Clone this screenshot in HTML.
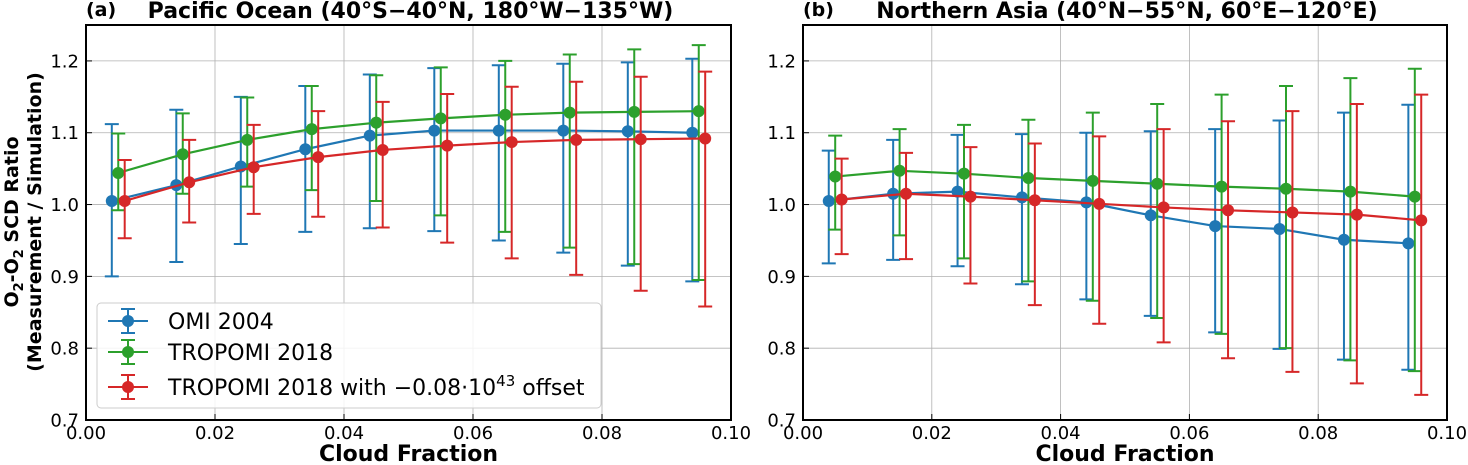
<!DOCTYPE html>
<html><head><meta charset="utf-8"><style>
html,body{margin:0;padding:0;background:#fff;}
svg{display:block;font-family:"DejaVu Sans","Liberation Sans",sans-serif;}
</style></head><body>
<svg id="chart" width="1468" height="465" viewBox="0 0 1468 465" xmlns="http://www.w3.org/2000/svg"></svg>
<script>
const cloudFraction=[0.005,0.015,0.025,0.035,0.045,0.055,0.065,0.075,0.085,0.095];
const xTicks=[0,0.02,0.04,0.06,0.08,0.10];
const xTickLabels=["0.00","0.02","0.04","0.06","0.08","0.10"];
const yTicks=[0.7,0.8,0.9,1.0,1.1,1.2];
const yTickLabels=["0.7","0.8","0.9","1.0","1.1","1.2"];
const seriesNames=["OMI 2004","TROPOMI 2018","TROPOMI 2018 with \u22120.08\u00b710"];
const xOffsets=[-0.001,0,0.001];
// Panel a
const aOmi=[1.005,1.027,1.053,1.077,1.096,1.103,1.103,1.103,1.102,1.100];
const aOmiLow=[0.900,0.920,0.945,0.962,0.967,0.963,0.950,0.933,0.915,0.893];
const aOmiHigh=[1.112,1.132,1.150,1.165,1.181,1.190,1.194,1.196,1.198,1.203];
const aTro=[1.044,1.070,1.090,1.105,1.114,1.120,1.125,1.128,1.129,1.130];
const aTroLow=[0.992,1.015,1.025,1.020,1.005,0.985,0.962,0.940,0.917,0.895];
const aTroHigh=[1.099,1.127,1.149,1.165,1.180,1.191,1.200,1.209,1.216,1.222];
const aOff=[1.005,1.031,1.052,1.066,1.076,1.082,1.087,1.090,1.091,1.092];
const aOffLow=[0.953,0.975,0.987,0.983,0.968,0.947,0.925,0.902,0.880,0.858];
const aOffHigh=[1.062,1.090,1.111,1.130,1.143,1.154,1.164,1.171,1.178,1.185];
// Panel b
const bOmi=[1.005,1.015,1.018,1.010,1.003,0.985,0.970,0.966,0.951,0.946];
const bOmiLow=[0.918,0.923,0.914,0.889,0.868,0.845,0.822,0.799,0.784,0.770];
const bOmiHigh=[1.075,1.090,1.097,1.098,1.100,1.102,1.105,1.117,1.128,1.139];
const bTro=[1.039,1.047,1.043,1.037,1.033,1.029,1.025,1.022,1.018,1.011];
const bTroLow=[0.965,0.957,0.925,0.893,0.866,0.842,0.820,0.800,0.783,0.768];
const bTroHigh=[1.096,1.105,1.111,1.118,1.128,1.140,1.153,1.165,1.176,1.189];
const bOff=[1.007,1.015,1.011,1.006,1.001,0.996,0.992,0.989,0.986,0.978];
const bOffLow=[0.931,0.924,0.890,0.860,0.834,0.808,0.786,0.767,0.751,0.735];
const bOffHigh=[1.064,1.072,1.080,1.085,1.095,1.105,1.116,1.130,1.140,1.153];

const colors=["#1f77b4","#2ca02c","#d62728"];
const NS="http://www.w3.org/2000/svg";
const svg=document.getElementById("chart");
function mk(tag,attrs,parent){const e=document.createElementNS(NS,tag);for(const k in attrs)e.setAttribute(k,attrs[k]);(parent||svg).appendChild(e);return e;}

function panel(x0,x1,letter,title,series,lows,highs,pid){
  const y0=25,y1=420;
  const xs=v=>x0+(v-0)/(0.10)*(x1-x0);
  const ys=v=>y1-(v-0.7)/(0.55)*(y1-y0);
  const g=mk("g",{});
  
  
  xTicks.forEach((t,i)=>{
    const l=mk("line",{x1:xs(t),x2:xs(t),y1:y0,y2:y1,stroke:"#b0b0b0","stroke-width":0.8},g);
    
    
    const tk=mk("line",{x1:xs(t),x2:xs(t),y1:y1,y2:y1-6,stroke:"#000","stroke-width":1},g);
    
    
    const tx=mk("text",{x:xs(t),y:y1+19,"text-anchor":"middle","font-size":18},g);
    tx.textContent=xTickLabels[i];
    
    
  });
  yTicks.forEach((t,i)=>{
    const l=mk("line",{x1:x0,x2:x1,y1:ys(t),y2:ys(t),stroke:"#b0b0b0","stroke-width":0.8},g);
    
    
    const tk=mk("line",{x1:x0,x2:x0+6,y1:ys(t),y2:ys(t),stroke:"#000","stroke-width":1},g);
    
    
    const tx=mk("text",{x:x0-7,y:ys(t)+6.5,"text-anchor":"end","font-size":18},g);
    tx.textContent=yTickLabels[i];
    
    
  });
  series.forEach((s,k)=>{
    const c=colors[k];
    const xv=cloudFraction.map(v=>v+xOffsets[k]);
    s.forEach((v,i)=>{
      const lo=lows[k][i],hi=highs[k][i];const X=xs(xv[i]);
      const eb=mk("path",{d:`M${X},${ys(lo)}V${ys(hi)}M${X-7},${ys(lo)}H${X+7}M${X-7},${ys(hi)}H${X+7}`,stroke:c,"stroke-width":2,fill:"none"},g);
      
      
    });
    const ln=mk("polyline",{points:s.map((v,i)=>xs(xv[i])+","+ys(v)).join(" "),stroke:c,"stroke-width":2.2,fill:"none"},g);
    
    
    s.forEach((v,i)=>{
      const p=mk("circle",{cx:xs(xv[i]),cy:ys(v),r:6,fill:c},g);
      
      
    });
  });
  const fr=mk("rect",{x:x0,y:y0,width:x1-x0,height:y1-y0,fill:"none",stroke:"#000","stroke-width":2},g);
  
  
  const lt=mk("text",{x:x0,y:16,"font-size":19,"font-weight":"bold"},g);
  lt.textContent=letter;
  
  
  const tt=mk("text",{x:(x0+x1)/2+2,y:18,"text-anchor":"middle","font-size":22,"font-weight":"bold"},g);
  tt.textContent=title;
  
  
  const xl=mk("text",{x:(x0+x1)/2,y:465-4,"text-anchor":"middle","font-size":22,"font-weight":"bold"},g);
  xl.textContent="Cloud Fraction";
  
  
}
panel(86,731,"(a)","Pacific Ocean (40°S\u221240°N, 180°W\u2212135°W)",[aOmi,aTro,aOff],[aOmiLow,aTroLow,aOffLow],[aOmiHigh,aTroHigh,aOffHigh],"panel-a");
panel(803,1447,"(b)","Northern Asia (40°N\u221255°N, 60°E\u2212120°E)",[bOmi,bTro,bOff],[bOmiLow,bTroLow,bOffLow],[bOmiHigh,bTroHigh,bOffHigh],"panel-b");

const yt=mk("text",{transform:"translate(0,222) rotate(-90)","text-anchor":"middle","font-size":19,"font-weight":"bold"});
yt.innerHTML='<tspan x="0" y="18">O<tspan font-size="13" dy="5">2</tspan><tspan dy="-5">-O</tspan><tspan font-size="13" dy="5">2</tspan><tspan dy="-5"> SCD Ratio</tspan></tspan><tspan x="0" y="41">(Measurement / Simulation)</tspan>';



const lg=mk("g",{});


const lb=mk("rect",{x:97,y:303,width:504,height:105,rx:4,fill:"#fff","fill-opacity":0.85,stroke:"#ccc","stroke-width":1},lg);


const ly=[321,352,387];
seriesNames.forEach((n,k)=>{
  const c=colors[k];const y=ly[k];
  const e=mk("g",{},lg);
  
  
  mk("path",{d:`M108,${y}H148M128,${y-12}V${y+12}M121,${y-12}H135M121,${y+12}H135`,stroke:c,"stroke-width":2,fill:"none"},e);
  mk("circle",{cx:128,cy:y,r:6,fill:c},e);
  const t=mk("text",{x:168,y:y+8,"font-size":22},e);
  if(k===2){t.innerHTML=n+'<tspan font-size="15" dy="-9">43</tspan><tspan dy="9"> offset</tspan>';}
  else t.textContent=n;
});
</script>
</body></html>
